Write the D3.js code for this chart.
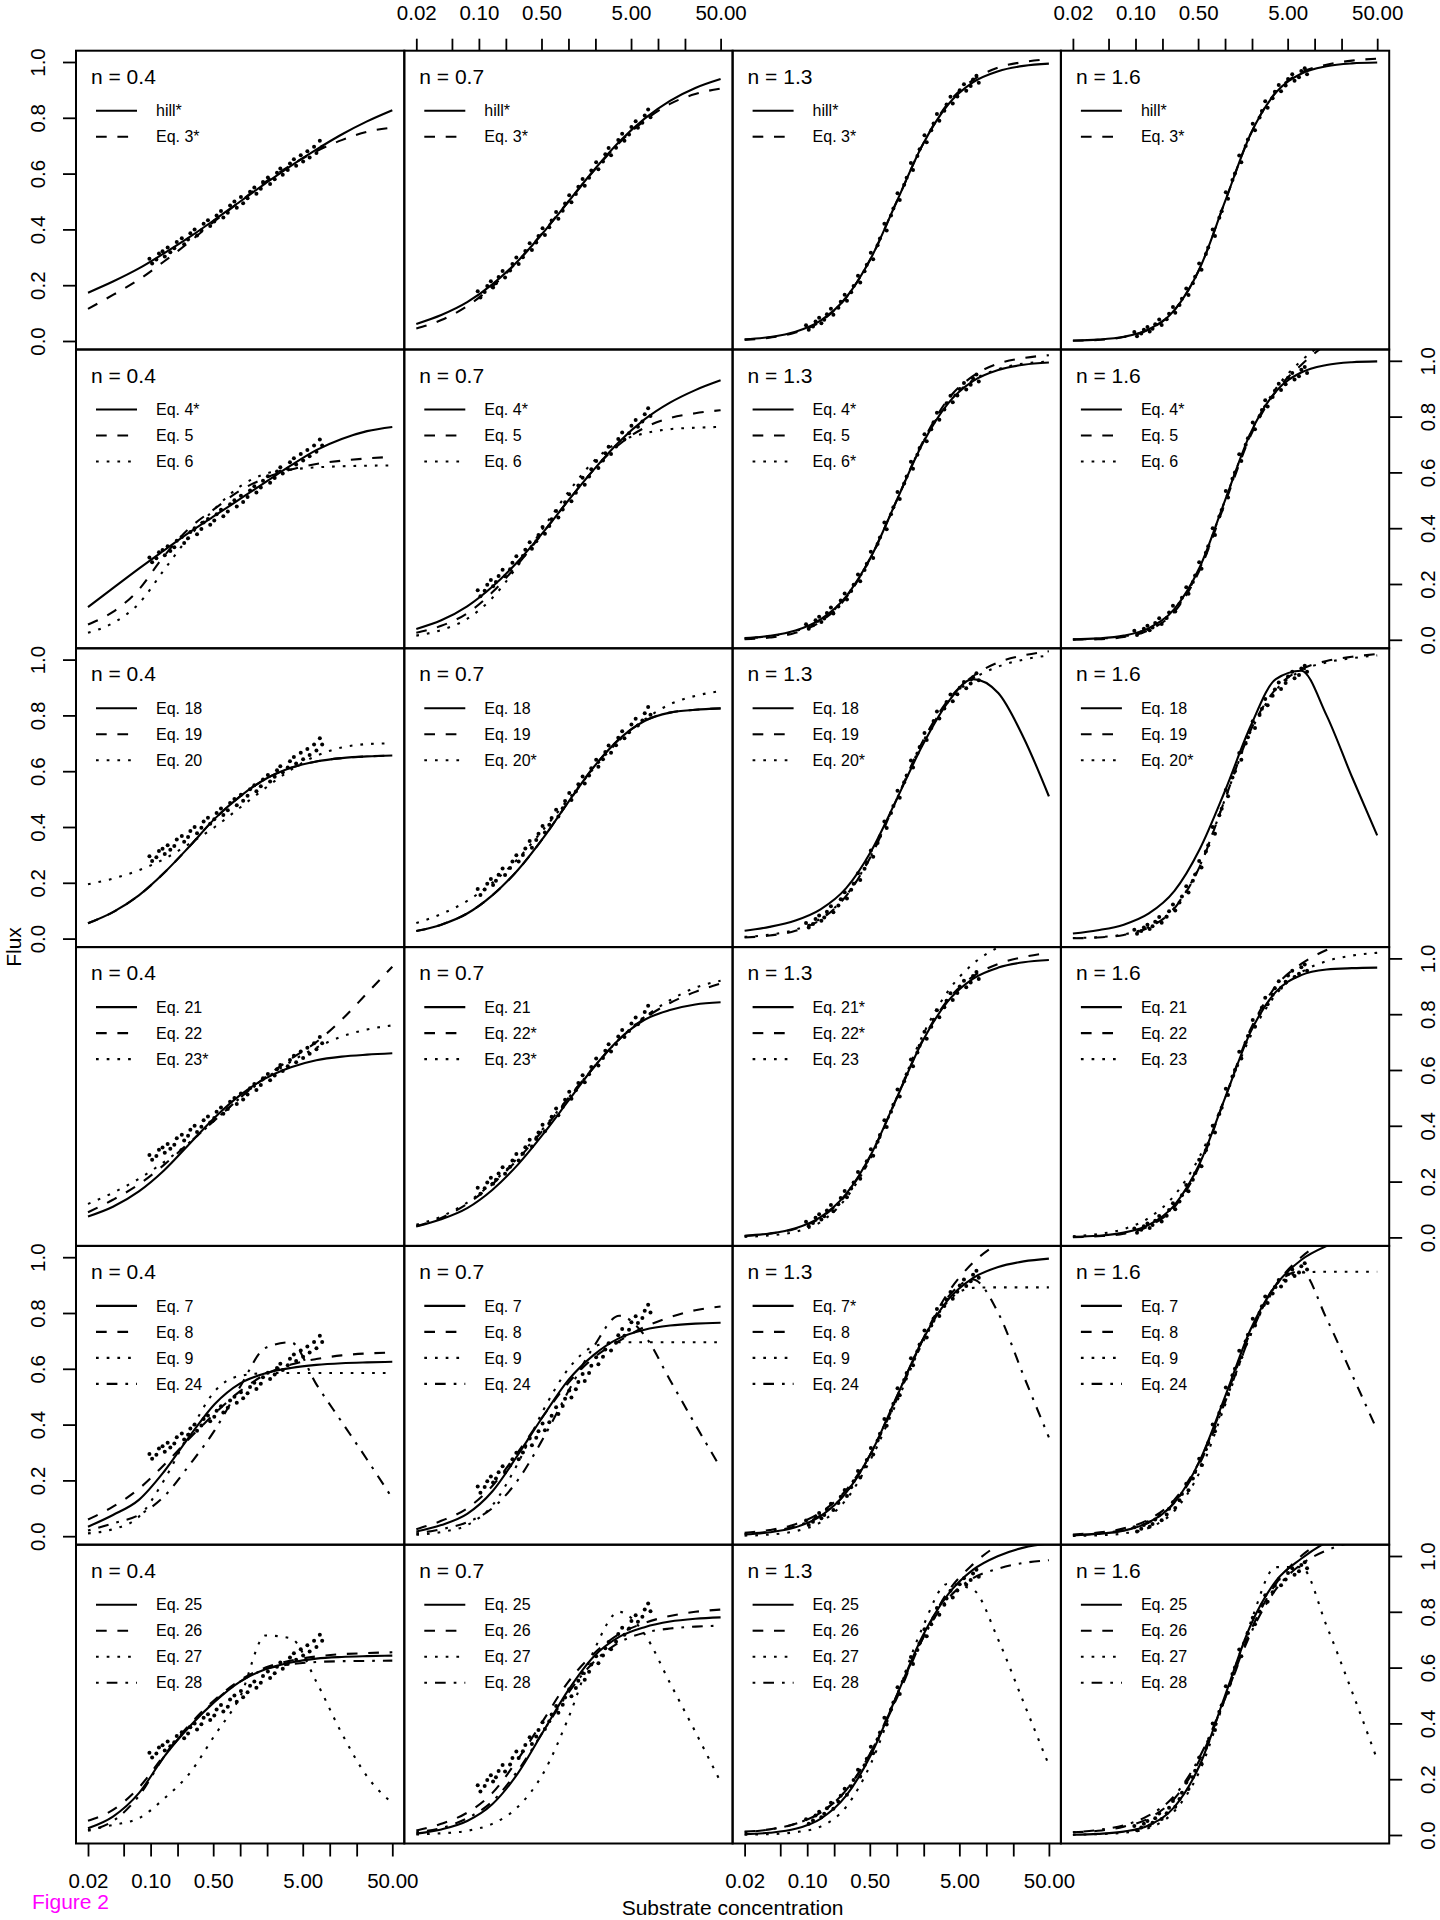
<!DOCTYPE html>
<html>
<head>
<meta charset="utf-8">
<script src="https://d3js.org/d3.v7.min.js"></script>
<style>
  body{ margin:0; background:#fff; }
  text{ font-family:"Liberation Sans", Arial, Helvetica, sans-serif; fill:#000; }
</style>
</head>
<body>
<svg id="chart" width="1440" height="1920"></svg>
<script>
  var gridX = [0.02,0.038,0.074,0.141,0.271,0.521,1,1.92,3.69,7.08,13.6,26.1,50];

  // observed substrate concentrations
  var obsX = [0.097,0.104, 0.116,0.124, 0.136,0.144, 0.155,0.166, 0.184,0.196, 0.223,0.237, 0.262,0.278,
              0.31,0.33, 0.369,0.391, 0.437,0.463, 0.514,0.546, 0.611,0.649, 0.728,0.772, 0.863,0.917,
              1.02,1.08, 1.21,1.29, 1.44,1.52, 1.70,1.80, 2.04,2.16, 2.43,2.58, 2.81,2.99,
              3.4,3.6, 3.98,4.22, 4.75,5.05, 5.63,5.97, 6.69,7.11, 7.76,8.24];

  // observed flux, per column (n), in order of obsX
  var obs04 = [0.295,0.278, 0.292,0.314, 0.322,0.303, 0.335,0.318, 0.332,0.355, 0.368,0.347, 0.364,0.386,
               0.4,0.378, 0.397,0.42, 0.433,0.412, 0.428,0.45, 0.466,0.443, 0.46,0.486, 0.5,0.478,
               0.516,0.494, 0.512,0.535, 0.55,0.528, 0.546,0.57, 0.586,0.563, 0.58,0.603, 0.618,0.596,
               0.613,0.636, 0.651,0.628, 0.666,0.643, 0.68,0.658, 0.696,0.674, 0.718,0.696];
  var obs07 = [0.178,0.156, 0.176,0.197, 0.214,0.192, 0.207,0.229, 0.251,0.228, 0.253,0.276, 0.299,0.276,
               0.3,0.323, 0.35,0.326, 0.353,0.376, 0.404,0.38, 0.408,0.432, 0.462,0.438, 0.467,0.493,
               0.522,0.497, 0.527,0.553, 0.581,0.556, 0.585,0.611, 0.641,0.616, 0.643,0.669, 0.692,0.666,
               0.693,0.72, 0.743,0.718, 0.74,0.767, 0.788,0.764, 0.782,0.808, 0.83,0.802];
  var obs13 = [0.056,0.04, 0.052,0.07, 0.083,0.064, 0.076,0.096, 0.116,0.094, 0.119,0.141, 0.166,0.144,
               0.175,0.197, 0.234,0.21, 0.25,0.273, 0.316,0.293, 0.343,0.367, 0.42,0.396, 0.45,0.475,
               0.53,0.505, 0.56,0.585, 0.638,0.613, 0.663,0.687, 0.737,0.712, 0.755,0.78, 0.814,0.789,
               0.825,0.848, 0.875,0.851, 0.876,0.899, 0.92,0.897, 0.914,0.937, 0.951,0.926];
  var obs16 = [0.032,0.017, 0.027,0.04, 0.05,0.034, 0.044,0.06, 0.077,0.057, 0.078,0.098, 0.122,0.101,
               0.129,0.151, 0.188,0.165, 0.207,0.23, 0.278,0.255, 0.312,0.335, 0.4,0.376, 0.442,0.465,
               0.533,0.51, 0.577,0.6, 0.665,0.641, 0.699,0.722, 0.779,0.755, 0.801,0.824, 0.859,0.836,
               0.87,0.893, 0.918,0.895, 0.916,0.939, 0.956,0.933, 0.945,0.968, 0.978,0.956];

  var nLabels = ["n = 0.4","n = 0.7","n = 1.3","n = 1.6"];
  var xTickVals = [0.02,0.05,0.1,0.2,0.5,1,2,5,10,20,50];
  var xTickLabels = ["0.02","","0.10","","0.50","","","5.00","","","50.00"];
  var yTickVals = [0,0.2,0.4,0.6,0.8,1.0];
  var yTickLabels = ["0.0","0.2","0.4","0.6","0.8","1.0"];

  // line type of the 1st..4th curve in each row
  var rowStyles = [
    ["solid","dashed"],
    ["solid","dashed","dotted"],
    ["solid","dashed","dotted"],
    ["solid","dashed","dotted"],
    ["solid","dashed","dotted","dotdash"],
    ["solid","dashed","dotted","dotdash"]
  ];

  // legend labels, row by row, column by column
  var legendRow1 = [["hill*","Eq. 3*"],["hill*","Eq. 3*"],["hill*","Eq. 3*"],["hill*","Eq. 3*"]];
  var legendRow2 = [["Eq. 4*","Eq. 5","Eq. 6"],["Eq. 4*","Eq. 5","Eq. 6"],["Eq. 4*","Eq. 5","Eq. 6*"],["Eq. 4*","Eq. 5","Eq. 6"]];
  var legendRow3 = [["Eq. 18","Eq. 19","Eq. 20"],["Eq. 18","Eq. 19","Eq. 20*"],["Eq. 18","Eq. 19","Eq. 20*"],["Eq. 18","Eq. 19","Eq. 20*"]];
  var legendRow4 = [["Eq. 21","Eq. 22","Eq. 23*"],["Eq. 21","Eq. 22*","Eq. 23*"],["Eq. 21*","Eq. 22*","Eq. 23"],["Eq. 21","Eq. 22","Eq. 23"]];
  var legendRow5 = [["Eq. 7","Eq. 8","Eq. 9","Eq. 24"],["Eq. 7","Eq. 8","Eq. 9","Eq. 24"],["Eq. 7*","Eq. 8","Eq. 9","Eq. 24"],["Eq. 7","Eq. 8","Eq. 9","Eq. 24"]];
  var legendRow6 = [["Eq. 25","Eq. 26","Eq. 27","Eq. 28"],["Eq. 25","Eq. 26","Eq. 27","Eq. 28"],["Eq. 25","Eq. 26","Eq. 27","Eq. 28"],["Eq. 25","Eq. 26","Eq. 27","Eq. 28"]];

  // fitted curves, flux at gridX
  var curvesRow1 = [
    [[0.173,0.213,0.260,0.314,0.372,0.435,0.5,0.565,0.628,0.686,0.740,0.787,0.827],
     [0.115,0.165,0.22,0.285,0.355,0.43,0.5,0.57,0.63,0.68,0.72,0.75,0.765]],
    [[0.061,0.093,0.139,0.203,0.286,0.388,0.5,0.612,0.714,0.797,0.861,0.907,0.939],
     [0.045,0.075,0.125,0.195,0.285,0.39,0.5,0.61,0.71,0.79,0.85,0.885,0.905]],
    [[0.006,0.014,0.033,0.073,0.155,0.300,0.5,0.700,0.845,0.927,0.967,0.986,0.994],
     [0.004,0.012,0.03,0.07,0.155,0.3,0.5,0.7,0.85,0.935,0.98,1.0,1.01]],
    [[0.002,0.005,0.015,0.042,0.110,0.260,0.5,0.740,0.890,0.958,0.985,0.995,0.998],
     [0.001,0.004,0.014,0.041,0.11,0.26,0.5,0.74,0.892,0.962,0.99,1.005,1.012]]
  ];
  var curvesRow2 = [
    [[0.117,0.185,0.255,0.32,0.385,0.445,0.505,0.565,0.625,0.68,0.72,0.748,0.763],
     [0.055,0.10,0.18,0.30,0.40,0.47,0.535,0.58,0.61,0.63,0.642,0.65,0.656],
     [0.025,0.06,0.13,0.25,0.37,0.47,0.55,0.595,0.61,0.618,0.622,0.624,0.625]],
    [[0.039,0.07,0.12,0.19,0.28,0.385,0.5,0.61,0.71,0.79,0.85,0.895,0.93],
     [0.025,0.05,0.095,0.17,0.27,0.385,0.5,0.61,0.70,0.76,0.795,0.812,0.823],
     [0.015,0.035,0.075,0.15,0.265,0.40,0.53,0.64,0.71,0.74,0.755,0.76,0.763]],
    [[0.006,0.014,0.033,0.073,0.155,0.300,0.5,0.700,0.845,0.927,0.967,0.986,0.994],
     [0.002,0.008,0.025,0.065,0.15,0.3,0.5,0.705,0.86,0.945,0.99,1.01,1.02],
     [0.005,0.013,0.031,0.071,0.152,0.298,0.5,0.702,0.848,0.93,0.97,0.99,0.997]],
    [[0.002,0.005,0.015,0.042,0.110,0.260,0.5,0.740,0.890,0.958,0.985,0.995,0.998],
     [0.0005,0.002,0.01,0.035,0.10,0.25,0.49,0.73,0.89,0.985,1.06,1.12,1.18],
     [0.001,0.004,0.012,0.038,0.105,0.255,0.5,0.74,0.9,1.0,1.07,1.13,1.2]]
  ];
  var curvesRow3 = [
    [[0.055,0.095,0.155,0.235,0.33,0.43,0.51,0.572,0.612,0.635,0.647,0.653,0.656],
     [0.055,0.095,0.155,0.235,0.33,0.43,0.51,0.572,0.612,0.635,0.647,0.653,0.656],
     [0.195,0.215,0.245,0.285,0.34,0.40,0.47,0.54,0.605,0.655,0.685,0.697,0.70]],
    [[0.027,0.05,0.09,0.155,0.245,0.36,0.49,0.615,0.715,0.78,0.81,0.82,0.825],
     [0.027,0.05,0.09,0.155,0.245,0.36,0.49,0.615,0.715,0.78,0.81,0.82,0.825],
     [0.056,0.088,0.135,0.2,0.285,0.39,0.5,0.61,0.71,0.785,0.84,0.87,0.887]],
    [[0.028,0.042,0.065,0.105,0.18,0.315,0.5,0.69,0.845,0.93,0.88,0.72,0.51],
     [0.004,0.011,0.028,0.068,0.152,0.298,0.5,0.703,0.852,0.94,0.99,1.015,1.03],
     [0.006,0.014,0.032,0.072,0.154,0.3,0.5,0.7,0.846,0.93,0.975,1.0,1.015]],
    [[0.018,0.03,0.05,0.09,0.17,0.32,0.53,0.76,0.93,0.96,0.8,0.58,0.37],
     [0.001,0.004,0.013,0.04,0.108,0.258,0.5,0.745,0.895,0.965,0.995,1.01,1.02],
     [0.002,0.005,0.015,0.042,0.11,0.26,0.5,0.74,0.89,0.96,0.99,1.005,1.015]]
  ];
  var curvesRow4 = [
    [[0.075,0.11,0.165,0.24,0.335,0.43,0.51,0.57,0.61,0.635,0.648,0.655,0.66],
     [0.09,0.135,0.19,0.26,0.34,0.42,0.5,0.575,0.64,0.70,0.78,0.875,0.97],
     [0.12,0.16,0.21,0.27,0.34,0.42,0.5,0.57,0.63,0.68,0.72,0.745,0.76]],
    [[0.039,0.065,0.105,0.17,0.26,0.37,0.49,0.61,0.71,0.78,0.815,0.835,0.843],
     [0.04,0.07,0.12,0.19,0.28,0.385,0.5,0.61,0.71,0.785,0.84,0.88,0.91],
     [0.045,0.075,0.125,0.195,0.285,0.39,0.5,0.61,0.71,0.79,0.85,0.895,0.92]],
    [[0.006,0.014,0.033,0.073,0.155,0.3,0.5,0.7,0.845,0.927,0.967,0.986,0.994],
     [0.005,0.013,0.031,0.07,0.152,0.298,0.5,0.703,0.85,0.935,0.98,1.005,1.02],
     [0.002,0.007,0.02,0.055,0.14,0.29,0.5,0.72,0.88,0.98,1.04,1.08,1.1]],
    [[0.002,0.006,0.017,0.045,0.115,0.265,0.5,0.735,0.88,0.94,0.96,0.965,0.967],
     [0.001,0.004,0.013,0.04,0.108,0.258,0.5,0.745,0.9,0.98,1.03,1.06,1.09],
     [0.004,0.012,0.03,0.07,0.15,0.29,0.5,0.72,0.87,0.95,0.99,1.01,1.02]]
  ];
  var curvesRow5 = [
    [[0.034,0.076,0.13,0.231,0.357,0.474,0.548,0.584,0.603,0.614,0.62,0.623,0.625],
     [0.06,0.106,0.17,0.255,0.35,0.44,0.52,0.58,0.615,0.635,0.648,0.655,0.658],
     [0.01,0.025,0.07,0.2,0.37,0.52,0.575,0.584,0.585,0.585,0.585,0.585,0.585],
     [0.02,0.046,0.076,0.142,0.255,0.38,0.536,0.675,0.695,0.545,0.41,0.275,0.136]],
    [[0.017,0.04,0.08,0.16,0.29,0.43,0.56,0.65,0.71,0.74,0.755,0.762,0.765],
     [0.025,0.055,0.1,0.18,0.3,0.43,0.55,0.64,0.70,0.75,0.785,0.81,0.823],
     [0.005,0.015,0.04,0.11,0.26,0.45,0.6,0.68,0.695,0.695,0.695,0.695,0.695],
     [0.01,0.025,0.05,0.1,0.2,0.35,0.52,0.68,0.79,0.72,0.56,0.40,0.245]],
    [[0.006,0.014,0.032,0.072,0.155,0.3,0.5,0.7,0.845,0.925,0.965,0.985,0.995],
     [0.012,0.022,0.043,0.085,0.165,0.3,0.49,0.7,0.87,0.98,1.05,1.1,1.13],
     [0.002,0.006,0.018,0.05,0.13,0.28,0.48,0.69,0.84,0.89,0.892,0.892,0.892],
     [0.008,0.017,0.036,0.075,0.155,0.3,0.5,0.7,0.855,0.92,0.80,0.575,0.354]],
    [[0.003,0.008,0.02,0.05,0.12,0.27,0.5,0.74,0.9,0.99,1.04,1.07,1.09],
     [0.006,0.013,0.028,0.06,0.13,0.27,0.49,0.73,0.9,1.0,1.06,1.1,1.12],
     [0.001,0.003,0.01,0.03,0.09,0.23,0.47,0.72,0.89,0.945,0.948,0.948,0.948],
     [0.004,0.01,0.022,0.05,0.12,0.26,0.48,0.72,0.9,0.95,0.78,0.58,0.38]]
  ];
  var curvesRow6 = [
    [[0.024,0.066,0.15,0.28,0.388,0.478,0.55,0.594,0.618,0.632,0.638,0.641,0.643],
     [0.051,0.09,0.17,0.285,0.395,0.485,0.555,0.6,0.625,0.64,0.648,0.652,0.655],
     [0.018,0.036,0.06,0.13,0.22,0.358,0.496,0.715,0.705,0.55,0.365,0.21,0.114],
     [0.015,0.05,0.14,0.28,0.39,0.48,0.55,0.594,0.612,0.62,0.623,0.624,0.625]],
    [[0.005,0.02,0.05,0.11,0.22,0.37,0.52,0.64,0.71,0.745,0.765,0.775,0.78],
     [0.016,0.04,0.08,0.15,0.27,0.41,0.55,0.65,0.72,0.76,0.785,0.8,0.808],
     [0.002,0.006,0.015,0.04,0.1,0.22,0.42,0.66,0.80,0.72,0.545,0.37,0.19],
     [0.01,0.025,0.06,0.12,0.23,0.37,0.51,0.62,0.69,0.725,0.74,0.747,0.75]],
    [[0.003,0.008,0.022,0.058,0.14,0.29,0.5,0.71,0.86,0.95,1.0,1.03,1.045],
     [0.012,0.02,0.04,0.08,0.16,0.3,0.49,0.7,0.87,0.97,1.04,1.09,1.12],
     [0.001,0.003,0.01,0.03,0.1,0.26,0.5,0.74,0.9,0.88,0.70,0.475,0.25],
     [0.01,0.02,0.04,0.08,0.16,0.3,0.5,0.7,0.845,0.92,0.955,0.975,0.985]],
    [[0.001,0.004,0.012,0.035,0.1,0.25,0.5,0.75,0.91,0.99,1.05,1.09,1.12],
     [0.01,0.015,0.03,0.06,0.13,0.27,0.49,0.73,0.9,1.0,1.06,1.1,1.13],
     [0.001,0.003,0.008,0.025,0.085,0.23,0.49,0.76,0.96,0.96,0.75,0.515,0.27],
     [0.01,0.018,0.035,0.07,0.14,0.28,0.49,0.72,0.88,0.97,1.02,1.05,1.07]]
  ];

  var allCurves = [curvesRow1,curvesRow2,curvesRow3,curvesRow4,curvesRow5,curvesRow6];
  var allLegends = [legendRow1,legendRow2,legendRow3,legendRow4,legendRow5,legendRow6];
  var allObs = [obs04,obs07,obs13,obs16];

  // ---- layout ----
  var plotLeft = 76, plotTop = 50.7, pw = 328.3, ph = 298.8;
  var dashes = { solid:null, dashed:"10.7,10.7", dotted:"2.7,8", dotdash:"2.7,8,10.7,8" };

  var x = d3.scaleLog().domain([Math.pow(10,-1.833), Math.pow(10,1.833)]).range([0, pw]);
  var y = d3.scaleLinear().domain([-0.0305, 1.0405]).range([ph, 0]);

  var line = d3.line()
      .x(function(d,i){ return x(gridX[i]); })
      .y(function(d){ return y(d); })
      .curve(d3.curveMonotoneX);

  var svg = d3.select("#chart");
  var defs = svg.append("defs");
  defs.append("clipPath").attr("id","pclip")
    .append("rect").attr("x",0).attr("y",0).attr("width",pw).attr("height",ph);

  function styleAxis(a){
    a.select(".domain").remove();
    a.selectAll(".tick line").attr("stroke","#000").attr("stroke-width",1.8);
    a.selectAll("text").style("font-size","20.5px").attr("fill","#000");
    a.attr("font-family",null).attr("font-size",null);
  }

  for (var r=0; r<6; r++){
    for (var c=0; c<4; c++){
      var g = svg.append("g").attr("transform","translate("+(plotLeft+c*pw)+","+(plotTop+r*ph)+")");
      var inner = g.append("g").attr("clip-path","url(#pclip)");

      // observed points
      inner.selectAll("circle")
        .data(allObs[c])
        .enter().append("circle")
        .attr("cx", function(d,i){ return x(obsX[i]); })
        .attr("cy", function(d){ return y(d); })
        .attr("r", 2)
        .attr("fill","#000");

      // fitted curves
      var styles = rowStyles[r];
      allCurves[r][c].forEach(function(vals, k){
        inner.append("path")
          .attr("d", line(vals))
          .attr("fill","none")
          .attr("stroke","#000")
          .attr("stroke-width",2.1)
          .attr("stroke-dasharray", dashes[styles[k]]);
      });

      // strip label
      g.append("text").attr("x",15).attr("y",33)
        .style("font-size","21px").text(nLabels[c]);

      // legend
      allLegends[r][c].forEach(function(lab, k){
        var ly = 60 + k*26;
        g.append("line").attr("x1",20).attr("x2",61).attr("y1",ly).attr("y2",ly)
          .attr("stroke","#000").attr("stroke-width",2.1)
          .attr("stroke-dasharray", dashes[styles[k]]);
        g.append("text").attr("x",80).attr("y",ly+5.7)
          .style("font-size","16px").text(lab);
      });

      // frame
      g.append("rect").attr("width",pw).attr("height",ph)
        .attr("fill","none").attr("stroke","#000").attr("stroke-width",2);

      // x axes: top on columns 2 and 4, bottom on columns 1 and 3
      if (r === 0 && (c === 1 || c === 3)){
        var ax = g.append("g").call(d3.axisTop(x).tickValues(xTickVals).tickSize(12).tickPadding(18.7)
          .tickFormat(function(d,i){ return xTickLabels[i]; }));
        styleAxis(ax);
      }
      if (r === 5 && (c === 0 || c === 2)){
        var axb = g.append("g").attr("transform","translate(0,"+ph+")")
          .call(d3.axisBottom(x).tickValues(xTickVals).tickSize(13).tickPadding(17)
          .tickFormat(function(d,i){ return xTickLabels[i]; }));
        styleAxis(axb);
      }
      // y axes: left on rows 1,3,5 ; right on rows 2,4,6
      if (c === 0 && r % 2 === 0){
        var ay = g.append("g").call(d3.axisLeft(y).tickValues(yTickVals).tickSize(13)
          .tickFormat(function(d,i){ return yTickLabels[i]; }));
        styleAxis(ay);
        ay.selectAll("text").attr("x",0).attr("dy",null)
          .attr("transform","translate(-31,0) rotate(-90)").attr("text-anchor","middle");
      }
      if (c === 3 && r % 2 === 1){
        var ayr = g.append("g").attr("transform","translate("+pw+",0)")
          .call(d3.axisRight(y).tickValues(yTickVals).tickSize(13)
          .tickFormat(function(d,i){ return yTickLabels[i]; }));
        styleAxis(ayr);
        ayr.selectAll("text").attr("x",0).attr("dy",null)
          .attr("transform","translate(46,0) rotate(-90)").attr("text-anchor","middle");
      }
    }
  }

  // axis titles
  svg.append("text").attr("transform","translate(21,947) rotate(-90)")
    .attr("text-anchor","middle").style("font-size","21px").text("Flux");
  svg.append("text").attr("x",732.6).attr("y",1915)
    .attr("text-anchor","middle").style("font-size","21px").text("Substrate concentration");
  svg.append("text").attr("x",32).attr("y",1909)
    .style("font-size","21px").style("fill","#ff00ff").text("Figure 2");
</script>
</body>
</html>
